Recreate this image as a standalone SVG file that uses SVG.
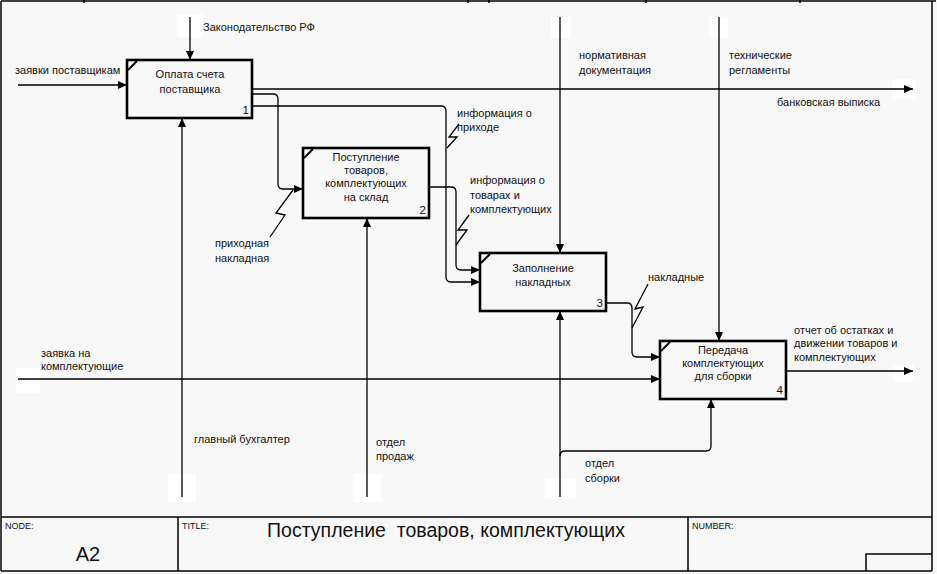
<svg xmlns="http://www.w3.org/2000/svg" width="937" height="574" viewBox="0 0 937 574">
<defs>
<marker id="ah" markerWidth="9" markerHeight="8" refX="9" refY="4" orient="auto" markerUnits="userSpaceOnUse">
<path d="M0,0 L9,4 L0,8 z" fill="#000"/>
</marker>
<style>
text{font-family:"Liberation Sans",Arial,sans-serif;font-size:11px;fill:#111}
.c{stroke:#000;stroke-width:1.3;fill:none}
.a{marker-end:url(#ah)}
.box{fill:none;stroke:#000;stroke-width:2.6}
.tick{stroke:#000;stroke-width:2}
.m{text-anchor:middle}
.n{text-anchor:end;font-size:11.5px}
.w{fill:#fff}
.fr{stroke:#000;stroke-width:1.5;fill:none}
.sm{font-size:9px;font-family:"Liberation Sans Narrow","Liberation Sans",sans-serif}
</style>
</defs>
<rect x="0" y="0" width="937" height="574" fill="#f8f8f8"/>
<g id="patches">
<rect class="w" x="177" y="14" width="26" height="23"/>
<rect class="w" x="551" y="17" width="19" height="21"/>
<rect class="w" x="709" y="17" width="19" height="21"/>
<rect class="w" x="892" y="79" width="24" height="20"/>
<rect class="w" x="893" y="365" width="21" height="16"/>
<rect class="w" x="16" y="368" width="24" height="25"/>
<rect class="w" x="168" y="474" width="28" height="28"/>
<rect class="w" x="353" y="474" width="28" height="28"/>
<rect class="w" x="545" y="478" width="31" height="21"/>
</g>
<g id="frame">
<path class="fr" d="M1,1 H936 M1,1 V571 M932,1 V571 M1,571 H932 M1,517 H932 M178,517 V571 M688,517 V571 M866,571 V554 H932"/>
<path class="fr" d="M84,0 V3 M468,0 V3 M489,0 V3 M646,0 V3 M800,0 V3"/>
<text class="sm" x="5" y="529">NODE:</text>
<text class="sm" x="182" y="529">TITLE:</text>
<text class="sm" x="692" y="529">NUMBER:</text>
<text x="88" y="561" class="m" style="font-size:20px">A2</text>
<text x="446" y="537" class="m" style="font-size:19.5px" xml:space="preserve">Поступление  товаров, комплектующих</text>
</g>
<g id="connectors">
<path class="c a" d="M190,17 V60"/>
<path class="c a" d="M560,17 V253"/>
<path class="c a" d="M719,17 V341"/>
<path class="c a" d="M18,85 H127"/>
<path class="c a" d="M252,89 H913"/>
<path class="c a" d="M252,94 H273 Q278,94 278,99 V184 Q278,189 283,189 H303"/>
<path class="c a" d="M252,106 H441 Q446,106 446,111 V277 Q446,282 451,282 H480"/>
<path class="c a" d="M429,187 H451 Q456,187 456,192 V265 Q456,270 461,270 H480"/>
<path class="c a" d="M606,303 H627 Q632,303 632,308 V352 Q632,357 637,357 H660"/>
<path class="c a" d="M18,379 H660"/>
<path class="c a" d="M786,371 H913"/>
<path class="c a" d="M182,497 V118"/>
<path class="c a" d="M367,497 V218"/>
<path class="c a" d="M560,497 V311"/>
<path class="c a" d="M560,456 Q560,451 565,451 H706 Q711,451 711,446 V399"/>
<path class="c" d="M293,190 L276,213 L285,215 L270,237"/>
<path class="c" d="M447,148 L457,137 L449,137 L459,124"/>
<path class="c" d="M456,245 L467,230 L458,230 L469,215"/>
<path class="c" d="M632,328 L643,307 L635,309 L648,284"/>
<text x="203" y="31">Законодательство РФ</text>
<text x="15" y="74">заявки поставщикам</text>
<text x="579" y="59">нормативная</text>
<text x="579" y="74">документация</text>
<text x="729" y="59">технические</text>
<text x="729" y="74">регламенты</text>
<text x="777" y="106">банковская выписка</text>
<text x="457" y="117">информация о</text>
<text x="457" y="131">приходе</text>
<text x="470" y="184">информация о</text>
<text x="470" y="199">товарах и</text>
<text x="470" y="213">комплектующих</text>
<text x="215" y="247">приходная</text>
<text x="215" y="262">накладная</text>
<text x="648" y="281">накладные</text>
<text x="41" y="357">заявка на</text>
<text x="41" y="370">комплектующие</text>
<text x="194" y="443">главный бухгалтер</text>
<text x="376" y="446">отдел</text>
<text x="376" y="460">продаж</text>
<text x="585" y="467">отдел</text>
<text x="585" y="482">сборки</text>
<text x="794" y="334">отчет об остатках и</text>
<text x="794" y="347">движении товаров и</text>
<text x="794" y="361">комплектующих</text>
</g>
<g id="node1">
<rect class="box" x="127" y="60" width="125" height="58" fill="none"/>
<line class="tick" x1="128" y1="70" x2="137" y2="61"/>
<text class="m" x="190" y="78">Оплата счета</text>
<text class="m" x="190" y="93">поставщика</text>
<text class="n" x="249" y="114">1</text>
</g>
<g id="node2">
<rect class="box" x="303" y="148" width="126" height="70"/>
<line class="tick" x1="304" y1="158" x2="313" y2="149"/>
<text class="m" x="366" y="161">Поступление</text>
<text class="m" x="366" y="174">товаров,</text>
<text class="m" x="366" y="187">комплектующих</text>
<text class="m" x="366" y="201">на склад</text>
<text class="n" x="426" y="214">2</text>
</g>
<g id="node3">
<rect class="box" x="480" y="253" width="126" height="58"/>
<line class="tick" x1="481" y1="263" x2="490" y2="254"/>
<text class="m" x="543" y="272">Заполнение</text>
<text class="m" x="543" y="286">накладных</text>
<text class="n" x="603" y="307">3</text>
</g>
<g id="node4">
<rect class="box" x="660" y="341" width="126" height="58"/>
<line class="tick" x1="661" y1="351" x2="670" y2="342"/>
<text class="m" x="723" y="354">Передача</text>
<text class="m" x="723" y="367">комплектующих</text>
<text class="m" x="723" y="380">для сборки</text>
<text class="n" x="783" y="394">4</text>
</g>
</svg>
